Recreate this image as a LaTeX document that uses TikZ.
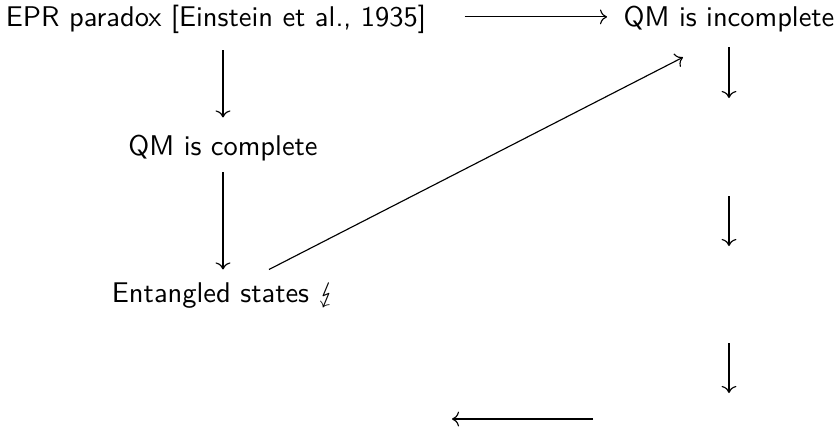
\documentclass[tikz,border=0pt]{standalone}
\usepackage{stmaryrd}
\usetikzlibrary{cd,calc}
\renewcommand{\familydefault}{\sfdefault}
\begin{document}
\begin{tikzpicture}[x=0.351pt,y=-0.351pt,
  lab/.style={inner sep=0pt,anchor=base,text height=7pt,text depth=2pt,font=\sffamily},
  cdarrow/.style={-{cm to},line width=0.4pt}]
\useasboundingbox (0,0) rectangle (840,426);
\node[lab] (epr) at (216,26) {EPR paradox [Einstein et al., 1935]};
\node[lab] (qmi) at (729,26) {QM is incomplete};
\node[lab] (qmc) at (223,155) {QM is complete};
\node[lab] (ent) at (224,302) {Entangled states $\lightning$};
\coordinate (r2) at (729,147);
\coordinate (r3) at (729,295);
\coordinate (r4) at (729,442);
\coordinate (bR) at (593,419);
\coordinate (bL) at (452,419);
\draw[cdarrow] ($(epr.east)+(38,-2)$) -- ($(qmi.west)+(-16,-2)$);
\draw[cdarrow] ($(epr.south -| qmc.south)+(0,18)$) -- ($(qmc.north)+(0,-17)$);
\draw[cdarrow] ($(qmc.south)+(0,11)$) -- ($(ent.north -| qmc.south)+(0,-12)$);
\draw[cdarrow] ($(ent.north)+(45,-12)$) -- ($(qmi.south -| r2)+(-46,25)$);
\draw[cdarrow] ($(qmi.south -| r2)+(0,15)$) -- ($(r2)+(0,-49)$);
\draw[cdarrow] ($(r2)+(0,49)$) -- ($(r3)+(0,-49)$);
\draw[cdarrow] ($(r3)+(0,48)$) -- ($(r4)+(0,-49)$);
\draw[cdarrow] (bR) -- (bL);
\end{tikzpicture}
\end{document}
